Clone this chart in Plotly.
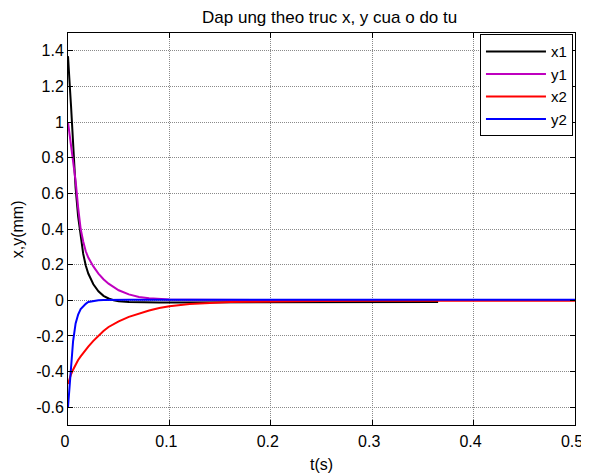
import plotly.graph_objects as go

t = [0, 0.001, 0.002, 0.003, 0.005, 0.0075, 0.01, 0.0125, 0.015, 0.0175, 0.02,
     0.025, 0.03, 0.035, 0.04, 0.045, 0.05, 0.06, 0.07, 0.08, 0.09, 0.1, 0.12,
     0.14, 0.16, 0.18, 0.2, 0.25, 0.3, 0.35, 0.365, 0.4, 0.45, 0.5]

x1 = [1.37, 1.30, 1.18, 1.09, 0.90, 0.63, 0.47, 0.35, 0.26, 0.195, 0.15,
      0.09, 0.05, 0.025, 0.01, 0.0, -0.006, -0.01, -0.012, -0.012, -0.012, -0.012, -0.012,
      -0.012, -0.012, -0.012, -0.012, -0.011, -0.01, -0.009, -0.009, None, None, None]

y1 = [1.0, 0.96, 0.92, 0.88, 0.79, 0.67, 0.52, 0.40, 0.33, 0.275, 0.24,
      0.19, 0.15, 0.118, 0.093, 0.072, 0.056, 0.033, 0.019, 0.012, 0.008, 0.005, 0.003,
      0.002, 0.002, 0.002, 0.001, 0.001, 0.001, 0.001, 0.001, 0.001, 0.001, 0.001]

x2 = [-0.47, -0.45, -0.43, -0.415, -0.39, -0.36, -0.335, -0.315, -0.295, -0.277, -0.26,
      -0.228, -0.198, -0.172, -0.15, -0.133, -0.118, -0.093, -0.073, -0.057, -0.043, -0.034, -0.021,
      -0.014, -0.01, -0.008, -0.006, -0.004, -0.003, -0.003, -0.003, -0.002, -0.002, -0.002]

y2 = [-0.60, -0.52, -0.45, -0.37, -0.23, -0.13, -0.08, -0.05, -0.033, -0.02, -0.01,
      -0.003, 0.0, 0.002, 0.003, 0.003, 0.003, 0.003, 0.003, 0.003, 0.003, 0.003, 0.003,
      0.003, 0.003, 0.003, 0.003, 0.003, 0.003, 0.003, 0.003, 0.003, 0.003, 0.003]

series = [("x1", x1, "#000000"), ("y1", y1, "#bf00bf"), ("x2", x2, "#ff0000"), ("y2", y2, "#0000ff")]

x_ticks = [0, 0.1, 0.2, 0.3, 0.4, 0.5]
y_ticks = [-0.6, -0.4, -0.2, 0, 0.2, 0.4, 0.6, 0.8, 1, 1.2, 1.4]
y_labels = ["-0.6", "-0.4", "-0.2", "0", "0.2", "0.4", "0.6", "0.8", "1", "1.2", "1.4"]

fig = go.Figure()
for name, vals, col in series:
    fig.add_trace(go.Scatter(x=t, y=vals, mode="lines", name=name,
                             line=dict(color=col, width=2), connectgaps=False))

font = "Liberation Sans, Arial, sans-serif"
axis_common = dict(showline=True, linecolor="black", linewidth=1, mirror="ticks",
                   ticks="inside", ticklen=5, tickcolor="black", automargin=False,
                   showgrid=True, gridcolor="#8a8a8a", griddash="1px,1px", gridwidth=1,
                   zeroline=False, ticklabeloverflow="allow",
                   tickfont=dict(family=font, size=16, color="black"))

fig.update_layout(
    width=581, height=467,
    margin=dict(l=60, r=14, t=25, b=50, autoexpand=False),
    paper_bgcolor="white", plot_bgcolor="white",
    title=dict(text="Dap ung theo truc x, y cua o do tu", x=0.5536, xanchor="center",
               y=0.981, yanchor="middle", automargin=False,
               font=dict(family=font, size=17, color="black")),
    xaxis=dict(range=[0, 0.5], tickvals=x_ticks, ticktext=[str(v) for v in x_ticks],
               ticklabelstandoff=2, ticklabelshift=-3, **axis_common),
    yaxis=dict(range=[-0.7, 1.5], tickvals=y_ticks, ticktext=y_labels, **axis_common),
    legend=dict(x=0.996, y=0.997, xanchor="right", yanchor="top",
                bgcolor="white", bordercolor="black", borderwidth=1,
                font=dict(family=font, size=15, color="black"),
                tracegroupgap=0, itemwidth=60),
    annotations=[
        dict(text="t(s)", xref="paper", yref="paper", x=0.5, y=-0.101,
             xanchor="center", yanchor="middle", showarrow=False,
             font=dict(family=font, size=16, color="black")),
        dict(text="x,y(mm)", xref="paper", yref="paper", x=-0.1, y=0.5,
             xanchor="center", yanchor="middle", textangle=-90, showarrow=False,
             font=dict(family=font, size=16, color="black")),
    ],
    showlegend=True,
)

fig.write_html("out.html")
